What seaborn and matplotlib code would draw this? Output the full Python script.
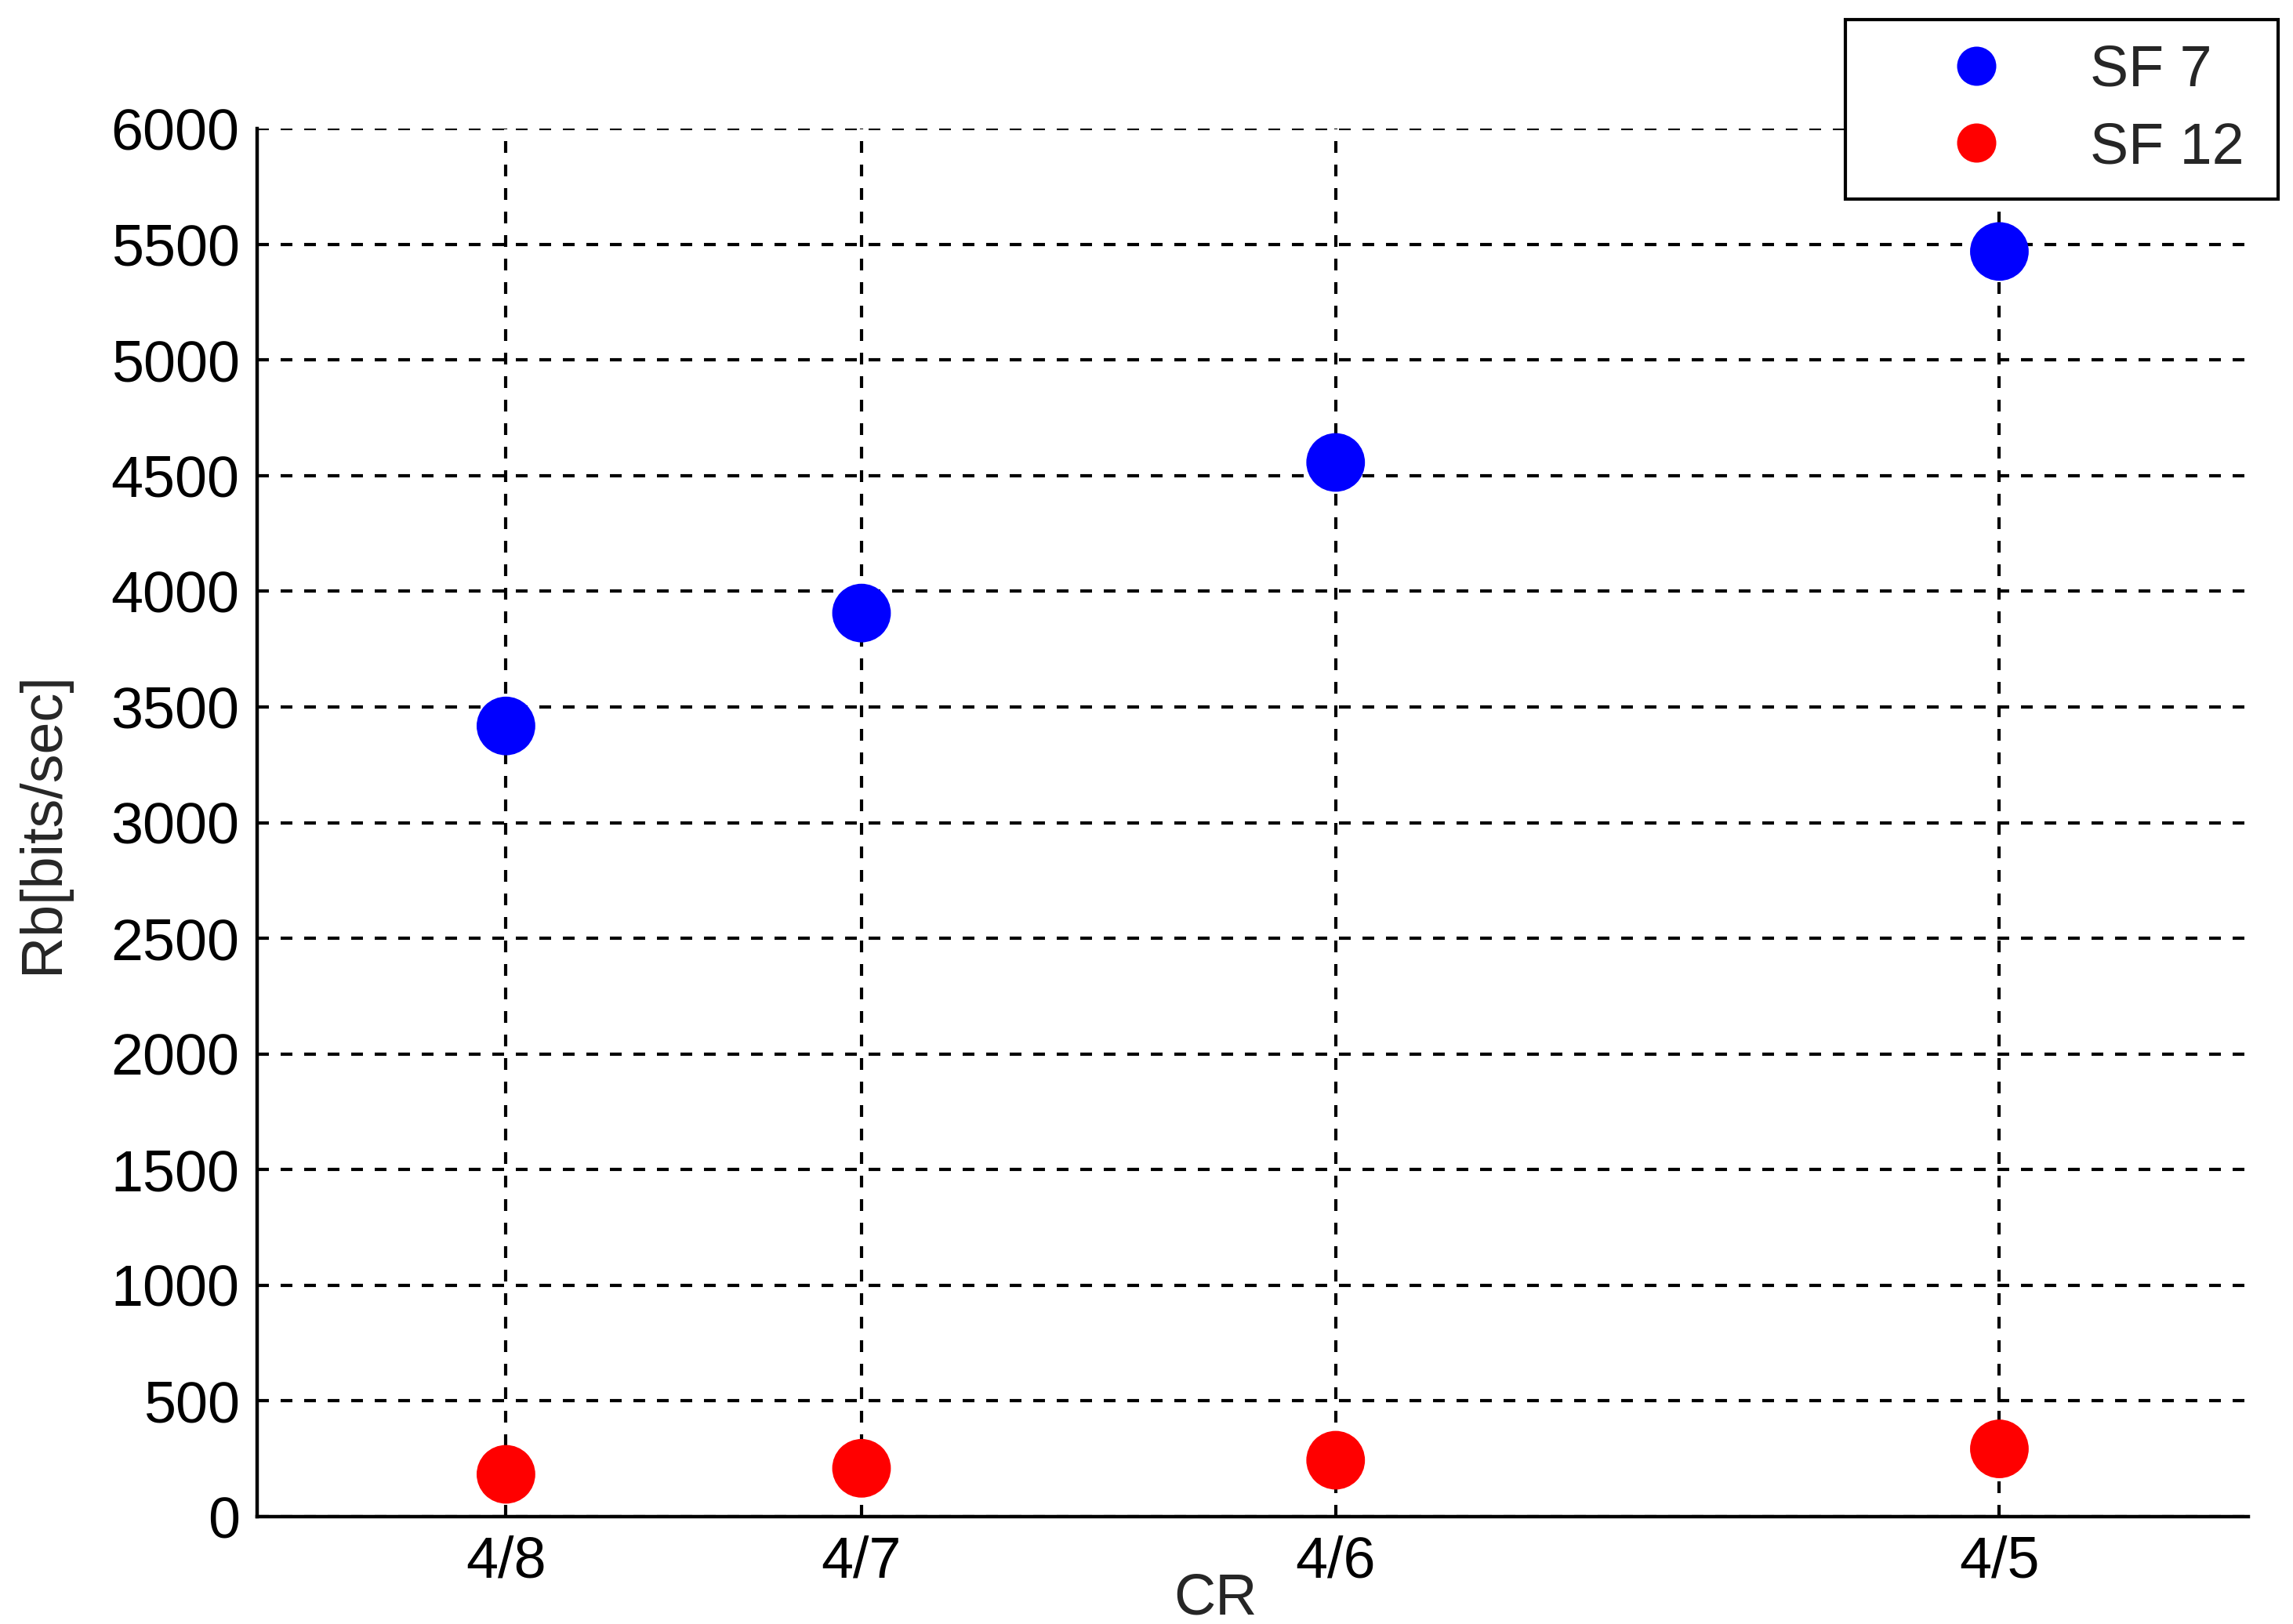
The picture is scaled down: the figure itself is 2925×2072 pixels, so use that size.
import matplotlib

matplotlib.use("Agg")

import matplotlib.pyplot as plt
from matplotlib.lines import Line2D
import seaborn as sns
import pandas as pd

# data
cr_labels = ["4/8", "4/7", "4/6", "4/5"]
cr_values = [4 / 8, 4 / 7, 4 / 6, 4 / 5]
rb_sf7 = [3418, 3906, 4557, 5469]
rb_sf12 = [183, 209, 244, 293]
series_names = ["SF 7", "SF 12"]
series_colors = {"SF 7": "#0000FF", "SF 12": "#FF0000"}
y_ticks = list(range(0, 6001, 500))

df = pd.DataFrame({
    "cr": cr_values * 2,
    "rb": rb_sf7 + rb_sf12,
    "sf": [series_names[0]] * 4 + [series_names[1]] * 4,
})

sns.set_style("white")
plt.rcParams["font.family"] = ["Liberation Sans", "DejaVu Sans"]

fig = plt.figure(figsize=(29.25, 20.72), dpi=100)
ax = fig.add_axes([0.1121, 0.0661, 0.8684, 0.8547])

sns.scatterplot(data=df, x="cr", y="rb", hue="sf", palette=series_colors,
                s=2900, linewidth=0, legend=False, ax=ax, zorder=3)

ax.set_xlim(0.45, 0.85)
ax.set_ylim(0, 6000)
ax.set_xticks(cr_values)
ax.set_xticklabels(cr_labels)
ax.set_yticks(y_ticks)

ax.grid(True, color="black", linestyle=(0, (3.6, 3.6)), linewidth=3)
ax.set_axisbelow(True)

for side in ["top", "right"]:
    ax.spines[side].set_visible(False)
for side in ["left", "bottom"]:
    ax.spines[side].set_linewidth(3.2)
    ax.spines[side].set_color("black")

ax.tick_params(axis="both", direction="in", length=30, width=3,
               labelsize=53, colors="black")
ax.tick_params(axis="x", pad=17)
ax.tick_params(axis="y", pad=16)

ax.set_xlabel("CR", fontsize=53)
ax.set_ylabel("Rb[bits/sec]", fontsize=53)
ax.xaxis.set_label_coords(0.4815, -0.040)
ax.yaxis.set_label_coords(-0.094, 0.5)

handles = [Line2D([0], [0], marker="o", linestyle="none", markersize=36,
                  markerfacecolor=series_colors[n], markeredgewidth=0)
           for n in series_names]
leg = ax.legend(handles, series_names, loc="upper left",
                bbox_to_anchor=(0.8048, 0.8784, 0.1887, 0.1096),
                bbox_transform=fig.transFigure, mode="expand",
                borderaxespad=0, fontsize=53, frameon=True, fancybox=False,
                borderpad=0.42, labelspacing=0.40, handlelength=3.7,
                handletextpad=0.12)
leg.get_frame().set_edgecolor("black")
leg.get_frame().set_linewidth(3)
leg.get_frame().set_alpha(1)

fig.savefig("out.png", dpi=100)
plt.close(fig)
